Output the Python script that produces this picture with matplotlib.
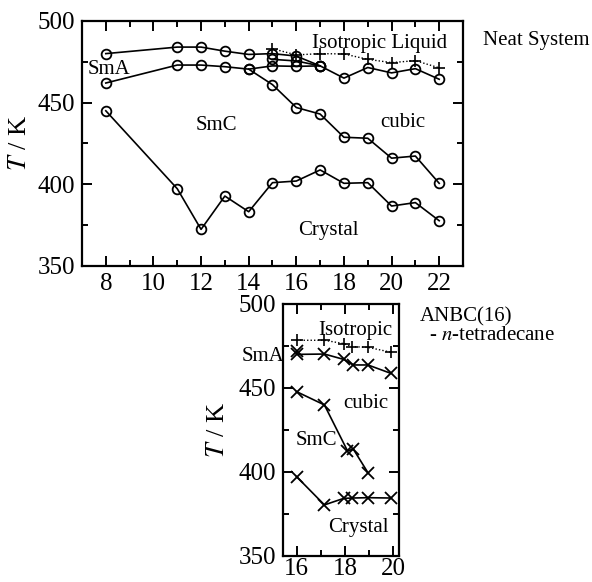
import matplotlib as mpl
mpl.use('Agg')

import matplotlib.pyplot as plt
from matplotlib.ticker import MultipleLocator

plt.rcParams['font.family'] = ['Liberation Serif', 'DejaVu Serif']
plt.rcParams['mathtext.fontset'] = 'stix'

# neat ANBC(n): transition temperatures vs. alkoxy chain length n
neat_n_sma_iso = [8, 11, 12, 13, 14, 15, 16, 17]
neat_T_sma_iso = [480, 484, 484, 481.5, 479.5, 480, 478.5, 472.5]
neat_n_cub_iso = [15, 16, 17, 18, 19, 20, 21, 22]
neat_T_cub_iso = [476.5, 475.5, 472.5, 465, 471.5, 468.2, 470.8, 464.3]
neat_n_smc_sma = [8, 11, 12, 13, 14, 15, 16, 17]
neat_T_smc_sma = [462, 473, 473, 472, 470.5, 472.5, 472.2, 472.5]
neat_n_smc_cub = [14, 15, 16, 17, 18, 19, 20, 21, 22]
neat_T_smc_cub = [470.5, 461, 447, 443, 428.8, 428.2, 416, 417.3, 400.6]
neat_n_cr = [8, 11, 12, 13, 14, 15, 16, 17, 18, 19, 20, 21, 22]
neat_T_cr = [445, 397.3, 372.4, 392.8, 383.2, 401, 402, 408.8, 400.6, 401, 386.7, 388.8, 377.7]
neat_n_iso = [15, 16, 17, 18, 19, 20, 21, 22]
neat_T_iso = [483, 479.2, 480, 479.8, 476.5, 474.5, 475.7, 471.3]

# ANBC(16) - n-tetradecane mixture
mix_x_iso = [16.0, 17.15, 17.95, 18.3, 18.95, 19.9]
mix_T_iso = [478.4, 478.4, 476.4, 474.6, 474.2, 471.3]
mix_x_sma = [16.0, 16.0, 17.15, 17.95, 18.35, 18.95, 19.9]
mix_T_sma = [472, 470, 470.2, 467, 463.7, 463.7, 458.7]
mix_x_smc = [16.0, 17.15, 18.1, 18.35, 18.95]
mix_T_smc = [447.8, 439.9, 412.7, 413.5, 399.6]
mix_x_cr = [16.0, 17.15, 17.95, 18.3, 18.95, 19.9]
mix_T_cr = [397.2, 380.4, 384.3, 384.5, 384.7, 384.5]

TFS = 18   # tick labels
LFS = 15   # phase labels


def style_axes(ax):
    for s in ax.spines.values():
        s.set_linewidth(1.6)
    ax.yaxis.set_major_locator(MultipleLocator(50))
    ax.yaxis.set_minor_locator(MultipleLocator(25))
    ax.xaxis.set_major_locator(MultipleLocator(2))
    ax.xaxis.set_minor_locator(MultipleLocator(1))
    ax.tick_params(which='both', direction='in', top=True, right=True,
                   labelsize=TFS, width=1.4)
    ax.tick_params(which='major', length=7, pad=5)
    ax.tick_params(which='minor', length=4)
    ax.set_ylim(350, 500)
    ax.set_ylabel(r'$T$ / K', fontsize=19)


fig = plt.figure(figsize=(5.92, 5.82), dpi=100)

circ = dict(marker='o', ms=7, mfc='none', mec='k', mew=1.3, color='k', lw=1.2)
ax1 = fig.add_axes([0.1385, 0.543, 0.6436, 0.421])
ax1.plot(neat_n_sma_iso, neat_T_sma_iso, **circ)
ax1.plot(neat_n_cub_iso, neat_T_cub_iso, **circ)
ax1.plot(neat_n_smc_sma, neat_T_smc_sma, **circ)
ax1.plot(neat_n_smc_cub, neat_T_smc_cub, **circ)
ax1.plot(neat_n_cr, neat_T_cr, **circ)
ax1.plot(neat_n_iso, neat_T_iso, marker='+', ms=8, mew=1.2, color='k',
         ls=(0, (1, 1.5)), lw=1.0)
ax1.set_xlim(7, 23)
style_axes(ax1)
ax1.yaxis.set_label_coords(-0.134, 0.5)

ax1.text(8.15, 470, 'SmA', fontsize=LFS, ha='center', va='center')
ax1.text(12.64, 436.3, 'SmC', fontsize=LFS, ha='center', va='center')
ax1.text(20.46, 438, 'cubic', fontsize=LFS, ha='center', va='center')
ax1.text(19.5, 486.5, 'Isotropic Liquid', fontsize=LFS, ha='center', va='center')
ax1.text(17.33, 372, 'Crystal', fontsize=LFS, ha='center', va='center')
fig.text(0.905, 0.931, 'Neat System', fontsize=LFS, ha='center', va='center')

cross = dict(marker='x', ms=8, mew=1.3, color='k', lw=1.2)
ax2 = fig.add_axes([0.4786, 0.0447, 0.196, 0.433])
ax2.plot(mix_x_iso, mix_T_iso, marker='+', ms=8, mew=1.2, color='k',
         ls=(0, (1, 1.5)), lw=1.0)
ax2.plot(mix_x_sma, mix_T_sma, **cross)
ax2.plot(mix_x_smc, mix_T_smc, **cross)
ax2.plot(mix_x_cr, mix_T_cr, **cross)
ax2.set_xlim(15.45, 20.25)
style_axes(ax2)
ax2.tick_params(axis='x', which='major', pad=1.5)
ax2.yaxis.set_label_coords(-0.468, 0.5)

ax2.text(15.5, 468.5, 'SmA', fontsize=LFS, ha='right', va='center')
ax2.text(16.8, 419, 'SmC', fontsize=LFS, ha='center', va='center')
ax2.text(18.85, 441, 'cubic', fontsize=LFS, ha='center', va='center')
ax2.text(18.43, 484.5, 'Isotropic', fontsize=LFS, ha='center', va='center')
ax2.text(18.54, 367, 'Crystal', fontsize=LFS, ha='center', va='center')
fig.text(0.709, 0.455, 'ANBC(16)', fontsize=LFS, ha='left', va='center')
fig.text(0.725, 0.424, '- $n$-tetradecane', fontsize=LFS, ha='left', va='center')

fig.savefig('out.png', dpi=100)
